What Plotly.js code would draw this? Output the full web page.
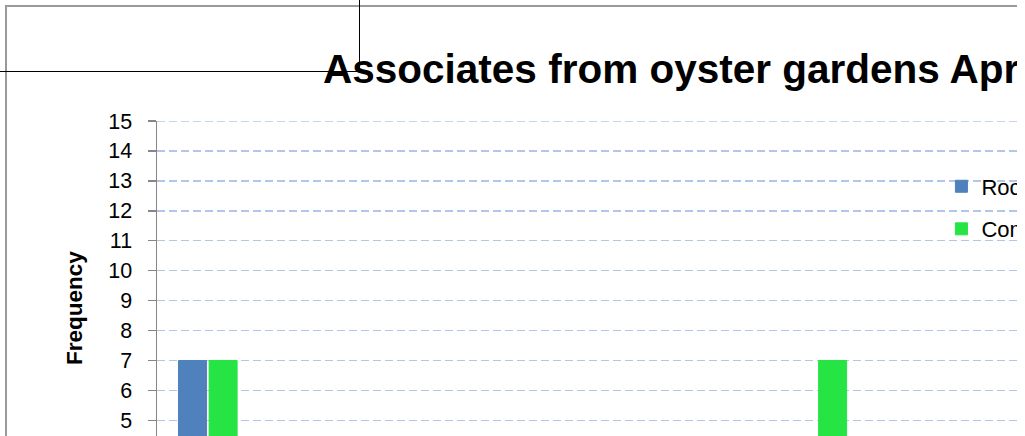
<!DOCTYPE html>
<html>
<head>
<meta charset="utf-8">
<script src="https://cdn.plot.ly/plotly-3.0.1.min.js"></script>
<style>
  html, body { margin: 0; padding: 0; overflow: hidden; background: #fff; width: 1025px; height: 436px; }
  #clip { position: absolute; left: 0; top: 0; width: 1017px; height: 436px; overflow: hidden; }
  #frame { position: absolute; left: 5px; top: 5px; border: 2px solid #9a9a9a; width: 1453px; height: 683px; }
  #chart { width: 1453px; height: 683px; }
  .mark { position: absolute; background: #000; z-index: 10; }
</style>
</head>
<body>
<div id="clip">
  <div id="frame"><div id="chart"></div></div>
</div>
<div class="mark" style="left:359px; top:0; width:1px; height:72px;"></div>
<div class="mark" style="left:0; top:71px; width:360px; height:1px;"></div>
<script>
// Category labels sit below the visible window; names are placeholders for hidden labels.
const categories = ["Grass shrimp", "Mud crabs", "Blue crabs", "Naked goby", "Skilletfish",
  "Oyster toadfish", "Blennies", "Amphipods", "Polychaetes", "Anemones", "Sea squirts", "Mussels"];
const seriesNames = ["Rock Creek", "Community Garden"];
const rockValues = [7, 3, 2, 4, 1, 2, 2, 1, 0, 2, 1, 0];
const comValues  = [7, 2, 4, 1, 3, 0, 7, 2, 1, 0, 3, 1];
const yTicks = [0,1,2,3,4,5,6,7,8,9,10,11,12,13,14,15];

const font = "Liberation Sans, Arial, sans-serif";
const yMax = Math.max(...yTicks);

const traces = [
  { type: "bar", name: seriesNames[0], x: categories, y: rockValues, legendgroup: "a",
    marker: { color: "#4f81bd", line: { color: "#4f81bd", width: 1 } } },
  { type: "bar", name: seriesNames[1], x: categories, y: comValues, legendgroup: "b",
    marker: { color: "#26e444", line: { color: "#26e444", width: 1 } } }
];

const layout = {
  width: 1453, height: 683,
  margin: { l: 150, r: 84, t: 114, b: 120 },
  paper_bgcolor: "#fff", plot_bgcolor: "#fff",
  font: { family: font, color: "#000", size: 21 },
  title: { text: "<b>Associates from oyster gardens April 2010</b>",
    font: { family: font, size: 40.5, color: "#000" },
    x: 0.2175, xanchor: "left", xref: "container",
    y: 0.930, yanchor: "top", yref: "container" },
  barmode: "group", bargap: 0.396, bargroupgap: 0.088,
  showlegend: true,
  legend: { x: 0.6435, xanchor: "left", y: 0.901, yanchor: "top",
    bgcolor: "rgba(0,0,0,0)", borderwidth: 0, tracegroupgap: 11,
    font: { family: font, size: 22, color: "#000" } },
  xaxis: { type: "category", showline: true, linecolor: "#868686", linewidth: 1.5,
    ticks: "outside", tickcolor: "#868686", ticklen: 6, showgrid: false,
    tickfont: { family: font, size: 21 } },
  yaxis: { range: [0, yMax], tickvals: yTicks, ticks: "outside", ticklen: 8,
    tickcolor: "#868686", tickwidth: 1.5, showline: true, linecolor: "#868686", linewidth: 1.5,
    showgrid: true, gridcolor: "#b3c6e7", gridwidth: 1.5, griddash: "8px,4px",
    zeroline: false, ticklabelstandoff: 11,
    tickfont: { family: font, size: 21.5, color: "#000" } },
  shapes: [
    { type: "line", xref: "paper", yref: "y", x0: 0, x1: 1, y0: yMax, y1: yMax, layer: "below",
      line: { color: "#b3c6e7", width: 1.5, dash: "8px,4px" } }
  ],
  annotations: [
    { text: "<b>Frequency</b>", textangle: -90, showarrow: false,
      xref: "paper", yref: "paper", x: -0.0681, y: 0.5835, xanchor: "center", yanchor: "middle",
      font: { family: font, size: 22.5, color: "#000" } }
  ]
};

Plotly.newPlot("chart", traces, layout, { displayModeBar: false, staticPlot: true });
</script>
</body>
</html>
